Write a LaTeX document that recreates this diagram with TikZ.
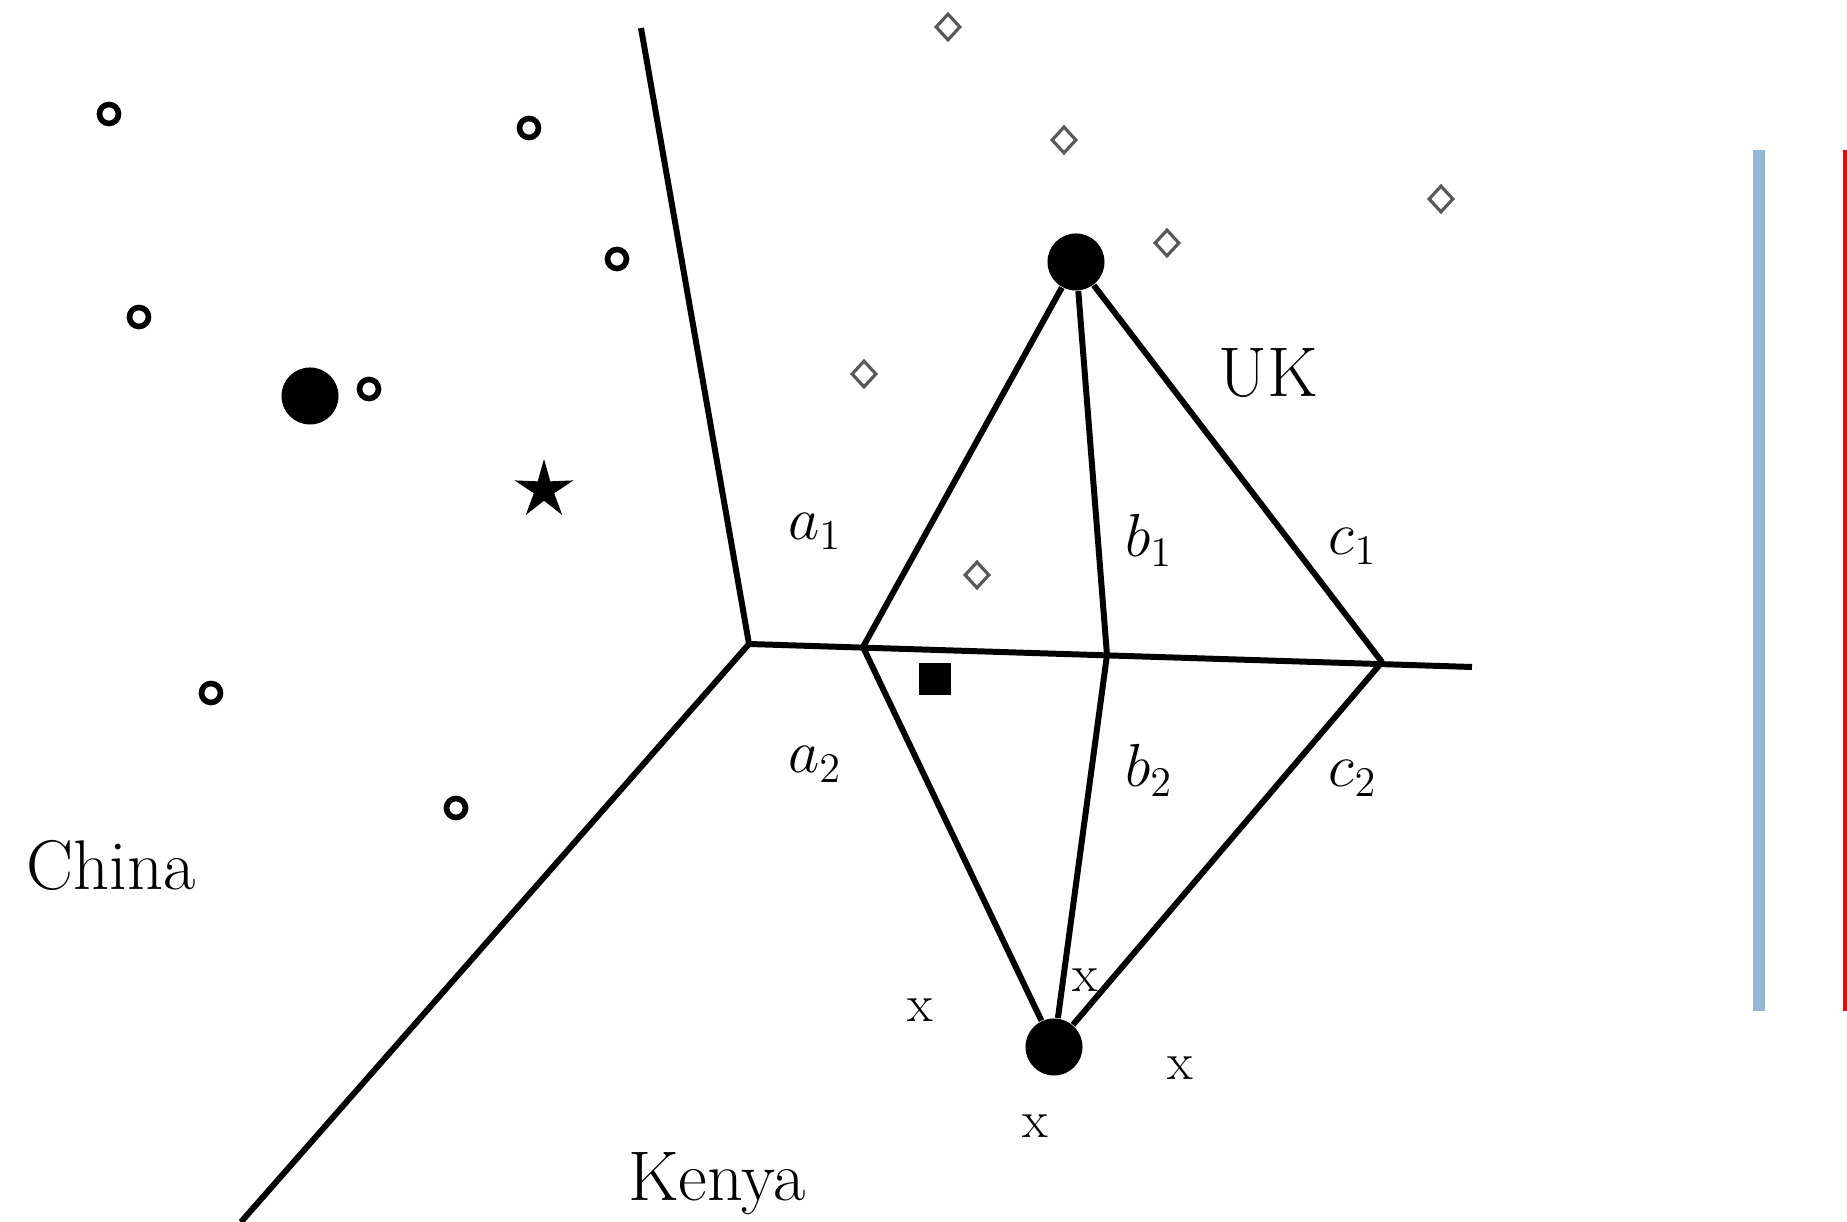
\documentclass[tikz,border=0pt]{standalone}
\usepackage{tikz}
\usetikzlibrary{shapes.geometric}
\usepackage{xcolor}
\definecolor{barblue}{RGB}{150,183,212}

\begin{document}
\begin{tikzpicture}[
      x=0.01cm, y=-0.01cm,
      bigdot/.style={circle, fill=black, inner sep=0pt, minimum size=0.57cm},
      obs/.style={circle, draw=black, line width=1.6pt, inner sep=0pt, minimum size=0.19cm},
      gem/.style={diamond, draw=black!65, line width=0.9pt, inner sep=0pt, minimum width=0.25cm, minimum height=0.27cm},
      xmark/.style={font=\fontsize{15}{18}\selectfont, inner sep=0pt},
      lbl/.style={font=\fontsize{18}{22}\selectfont, anchor=base, inner sep=0pt},
      country/.style={font=\fontsize{20}{24}\selectfont, anchor=base, inner sep=0pt},
      border/.style={line width=1.7pt, draw=black}
      ]
      \useasboundingbox (0,0) rectangle (1847,1222);

      % Cells
      \coordinate (v0) at (749,644);
      \coordinate (top) at (641,28);
      \coordinate (bottom) at (241,1222);
      \coordinate (right) at (1472,667);
      \coordinate (va) at (863,647);
      \coordinate (vb) at (1107,655);
      \coordinate (vc) at (1382,662);

      % Centres
      \node (china) [bigdot] at (310,396) {};
      \node (uk) [bigdot] at (1076,262) {};
      \node (kenya) [bigdot] at (1054,1047) {};

      % Points
      \node (o1) [obs] at (109,114) {};
      \node (o2) [obs] at (529,128) {};
      \node (o3) [obs] at (617,259) {};
      \node (o4) [obs] at (139,317) {};
      \node (o5) [obs] at (369,389) {};
      \node (o6) [obs] at (211,693) {};
      \node (o7) [obs] at (456,808) {};
      \node (d1) [gem] at (948,27) {};
      \node (d2) [gem] at (1064,140) {};
      \node (d3) [gem] at (1441,199) {};
      \node (d4) [gem] at (1167,243) {};
      \node (d5) [gem] at (864,374) {};
      \node (d6) [gem] at (977,575) {};
      \node (x1) [xmark] at (920,1010) {x};
      \node (x2) [xmark] at (1085,980) {x};
      \node (x3) [xmark] at (1180,1068) {x};
      \node (x4) [xmark] at (1035,1126) {x};
      \node (query) [star, star points=5, star point ratio=2.9, fill=black, inner sep=0pt, minimum size=0.62cm] at (544,490) {};
      \node (probe) [rectangle, fill=black, inner sep=0pt, minimum size=0.32cm] at (935,679) {};

      % Labels
      \node (lchina) [country] at (111,890) {China};
      \node (lkenya) [country] at (717,1201) {Kenya};
      \node (luk) [country] at (1268,397) {UK};
      \node (la1) [lbl] at (815,540) {$a_1$};
      \node (la2) [lbl] at (815,773) {$a_2$};
      \node (lb1) [lbl] at (1149,557) {$b_1$};
      \node (lb2) [lbl] at (1149,787) {$b_2$};
      \node (lc1) [lbl] at (1353,555) {$c_1$};
      \node (lc2) [lbl] at (1353,787) {$c_2$};

      % Lines
      \draw [border] (top) -- (v0) -- (bottom);
      \draw [border] (v0) -- (right);
      \draw [border] (uk) -- (va);
      \draw [border] (uk) -- (vb);
      \draw [border] (uk) -- (vc);
      \draw [border] (kenya) -- (va);
      \draw [border] (kenya) -- (vb);
      \draw [border] (kenya) -- (vc);

      % Bars
      \fill [barblue] (1753,150) rectangle (1765,1011);
      \fill [red] (1843,150) rectangle (1847,1011);

    \end{tikzpicture}
\end{document}
